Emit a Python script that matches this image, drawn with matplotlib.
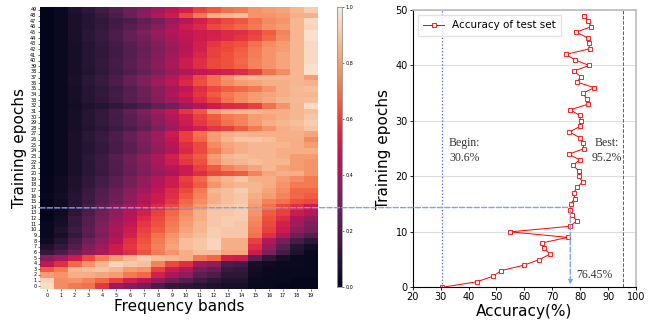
import matplotlib
matplotlib.use("Agg")
import matplotlib.pyplot as plt
from matplotlib.patches import ConnectionPatch
import numpy as np
import pandas as pd
import seaborn as sns

# ─── Data ─────────────────────────────────────────────────────────────────────
bands = list(range(20))
epochs = list(range(50))

# normalised band weight per epoch (row 0 = epoch 0)
band_weights = [
    [0.96, 0.76, 0.72, 0.70, 0.58, 0.40, 0.34, 0.30, 0.20, 0.14, 0.12, 0.10, 0.08, 0.06, 0.06, 0.02, 0.02, 0.01, 0.01, 0.01],
    [0.94, 0.76, 0.78, 0.74, 0.68, 0.60, 0.52, 0.46, 0.36, 0.28, 0.22, 0.16, 0.12, 0.08, 0.08, 0.03, 0.02, 0.02, 0.01, 0.01],
    [0.80, 0.78, 0.84, 0.84, 0.82, 0.80, 0.72, 0.68, 0.52, 0.42, 0.36, 0.24, 0.20, 0.12, 0.12, 0.04, 0.03, 0.02, 0.02, 0.02],
    [0.66, 0.72, 0.86, 0.88, 0.90, 0.86, 0.80, 0.78, 0.60, 0.50, 0.44, 0.30, 0.26, 0.15, 0.14, 0.05, 0.03, 0.02, 0.02, 0.02],
    [0.48, 0.56, 0.68, 0.78, 0.86, 0.94, 0.90, 0.88, 0.74, 0.62, 0.56, 0.40, 0.36, 0.20, 0.18, 0.06, 0.04, 0.03, 0.03, 0.02],
    [0.34, 0.40, 0.50, 0.62, 0.72, 0.80, 0.86, 0.92, 0.88, 0.86, 0.84, 0.72, 0.68, 0.52, 0.50, 0.24, 0.12, 0.06, 0.03, 0.02],
    [0.14, 0.20, 0.28, 0.36, 0.42, 0.50, 0.56, 0.64, 0.72, 0.78, 0.84, 0.88, 0.88, 0.82, 0.82, 0.50, 0.32, 0.18, 0.08, 0.03],
    [0.08, 0.14, 0.22, 0.32, 0.40, 0.50, 0.58, 0.66, 0.74, 0.82, 0.88, 0.90, 0.94, 0.84, 0.84, 0.56, 0.38, 0.24, 0.10, 0.05],
    [0.04, 0.10, 0.18, 0.28, 0.36, 0.46, 0.56, 0.64, 0.72, 0.80, 0.88, 0.90, 0.94, 0.84, 0.84, 0.60, 0.44, 0.30, 0.18, 0.12],
    [0.02, 0.06, 0.14, 0.22, 0.32, 0.42, 0.52, 0.62, 0.70, 0.78, 0.84, 0.88, 0.92, 0.90, 0.90, 0.70, 0.56, 0.44, 0.28, 0.22],
    [0.02, 0.08, 0.16, 0.24, 0.34, 0.42, 0.50, 0.60, 0.66, 0.74, 0.82, 0.86, 0.92, 0.90, 0.90, 0.72, 0.60, 0.50, 0.36, 0.30],
    [0.02, 0.06, 0.14, 0.22, 0.32, 0.40, 0.48, 0.58, 0.64, 0.72, 0.80, 0.86, 0.90, 0.92, 0.90, 0.74, 0.62, 0.52, 0.40, 0.32],
    [0.01, 0.05, 0.15, 0.22, 0.30, 0.38, 0.46, 0.55, 0.62, 0.70, 0.78, 0.84, 0.90, 0.92, 0.92, 0.76, 0.64, 0.56, 0.42, 0.36],
    [0.00, 0.04, 0.12, 0.20, 0.28, 0.36, 0.44, 0.52, 0.60, 0.68, 0.76, 0.84, 0.90, 0.90, 0.92, 0.78, 0.66, 0.60, 0.50, 0.45],
    [0.00, 0.04, 0.10, 0.18, 0.25, 0.33, 0.40, 0.48, 0.55, 0.62, 0.70, 0.80, 0.88, 0.90, 0.92, 0.80, 0.70, 0.62, 0.56, 0.50],
    [0.00, 0.04, 0.10, 0.16, 0.22, 0.28, 0.36, 0.44, 0.50, 0.58, 0.68, 0.76, 0.84, 0.88, 0.90, 0.82, 0.74, 0.70, 0.64, 0.62],
    [0.02, 0.05, 0.10, 0.16, 0.22, 0.28, 0.36, 0.44, 0.50, 0.56, 0.65, 0.74, 0.84, 0.88, 0.90, 0.84, 0.80, 0.74, 0.68, 0.66],
    [0.01, 0.04, 0.09, 0.15, 0.21, 0.27, 0.34, 0.41, 0.48, 0.55, 0.62, 0.72, 0.86, 0.88, 0.92, 0.86, 0.82, 0.76, 0.68, 0.68],
    [0.01, 0.04, 0.08, 0.13, 0.18, 0.24, 0.30, 0.37, 0.44, 0.50, 0.58, 0.66, 0.78, 0.84, 0.86, 0.86, 0.84, 0.78, 0.72, 0.72],
    [0.01, 0.04, 0.08, 0.13, 0.18, 0.24, 0.30, 0.37, 0.44, 0.50, 0.60, 0.68, 0.82, 0.86, 0.90, 0.84, 0.84, 0.80, 0.76, 0.72],
    [0.00, 0.03, 0.07, 0.11, 0.15, 0.20, 0.26, 0.32, 0.38, 0.42, 0.50, 0.56, 0.62, 0.64, 0.66, 0.74, 0.82, 0.84, 0.84, 0.78],
    [0.00, 0.03, 0.07, 0.11, 0.16, 0.21, 0.27, 0.34, 0.40, 0.46, 0.50, 0.60, 0.66, 0.74, 0.78, 0.82, 0.86, 0.82, 0.80, 0.78],
    [0.00, 0.03, 0.07, 0.11, 0.16, 0.21, 0.28, 0.35, 0.42, 0.50, 0.58, 0.64, 0.78, 0.84, 0.86, 0.88, 0.86, 0.86, 0.80, 0.78],
    [0.00, 0.03, 0.07, 0.11, 0.16, 0.22, 0.28, 0.36, 0.44, 0.52, 0.60, 0.66, 0.80, 0.86, 0.88, 0.86, 0.86, 0.84, 0.80, 0.80],
    [0.00, 0.03, 0.07, 0.10, 0.14, 0.19, 0.24, 0.30, 0.37, 0.44, 0.54, 0.62, 0.72, 0.80, 0.84, 0.86, 0.86, 0.84, 0.84, 0.84],
    [0.00, 0.03, 0.07, 0.10, 0.14, 0.19, 0.24, 0.31, 0.38, 0.46, 0.56, 0.62, 0.76, 0.82, 0.84, 0.86, 0.86, 0.86, 0.84, 0.80],
    [0.00, 0.03, 0.07, 0.11, 0.15, 0.20, 0.26, 0.33, 0.40, 0.48, 0.60, 0.68, 0.80, 0.86, 0.90, 0.90, 0.88, 0.84, 0.84, 0.76],
    [0.00, 0.03, 0.07, 0.11, 0.15, 0.20, 0.26, 0.33, 0.40, 0.50, 0.60, 0.70, 0.80, 0.84, 0.86, 0.85, 0.85, 0.85, 0.85, 0.82],
    [0.00, 0.03, 0.06, 0.09, 0.12, 0.16, 0.20, 0.25, 0.32, 0.40, 0.48, 0.52, 0.58, 0.60, 0.66, 0.72, 0.78, 0.84, 0.86, 0.90],
    [0.00, 0.03, 0.06, 0.10, 0.14, 0.18, 0.23, 0.28, 0.35, 0.42, 0.50, 0.58, 0.64, 0.70, 0.74, 0.80, 0.84, 0.86, 0.88, 0.92],
    [0.00, 0.03, 0.06, 0.10, 0.14, 0.18, 0.23, 0.30, 0.36, 0.45, 0.52, 0.60, 0.66, 0.72, 0.74, 0.80, 0.82, 0.84, 0.86, 0.90],
    [0.00, 0.03, 0.06, 0.10, 0.14, 0.19, 0.25, 0.32, 0.40, 0.48, 0.58, 0.65, 0.80, 0.85, 0.86, 0.86, 0.84, 0.84, 0.86, 0.88],
    [0.00, 0.03, 0.05, 0.08, 0.10, 0.13, 0.16, 0.20, 0.25, 0.30, 0.38, 0.44, 0.50, 0.55, 0.56, 0.60, 0.70, 0.78, 0.86, 0.96],
    [0.00, 0.03, 0.06, 0.10, 0.13, 0.17, 0.22, 0.27, 0.33, 0.40, 0.47, 0.55, 0.62, 0.70, 0.76, 0.80, 0.83, 0.86, 0.87, 0.88],
    [0.00, 0.03, 0.06, 0.10, 0.14, 0.18, 0.23, 0.28, 0.35, 0.43, 0.50, 0.58, 0.66, 0.72, 0.76, 0.80, 0.82, 0.84, 0.86, 0.86],
    [0.00, 0.03, 0.06, 0.10, 0.13, 0.17, 0.22, 0.28, 0.35, 0.42, 0.48, 0.56, 0.62, 0.66, 0.68, 0.72, 0.78, 0.84, 0.87, 0.88],
    [0.00, 0.03, 0.07, 0.11, 0.15, 0.20, 0.26, 0.32, 0.40, 0.47, 0.55, 0.63, 0.70, 0.76, 0.80, 0.82, 0.84, 0.84, 0.86, 0.85],
    [0.00, 0.03, 0.07, 0.11, 0.15, 0.20, 0.26, 0.32, 0.38, 0.45, 0.52, 0.62, 0.70, 0.78, 0.84, 0.86, 0.86, 0.86, 0.86, 0.80],
    [0.00, 0.03, 0.06, 0.09, 0.13, 0.17, 0.21, 0.26, 0.32, 0.38, 0.44, 0.48, 0.50, 0.52, 0.55, 0.60, 0.70, 0.76, 0.86, 0.97],
    [0.00, 0.03, 0.06, 0.10, 0.14, 0.18, 0.23, 0.28, 0.35, 0.42, 0.50, 0.56, 0.62, 0.64, 0.67, 0.74, 0.78, 0.82, 0.86, 0.97],
    [0.00, 0.03, 0.06, 0.10, 0.14, 0.18, 0.23, 0.28, 0.34, 0.42, 0.50, 0.56, 0.62, 0.64, 0.68, 0.74, 0.78, 0.82, 0.86, 0.95],
    [0.00, 0.03, 0.06, 0.10, 0.13, 0.17, 0.22, 0.27, 0.33, 0.40, 0.47, 0.54, 0.60, 0.64, 0.67, 0.73, 0.78, 0.82, 0.86, 0.95],
    [0.00, 0.03, 0.06, 0.10, 0.13, 0.17, 0.22, 0.26, 0.32, 0.38, 0.45, 0.52, 0.60, 0.62, 0.66, 0.72, 0.78, 0.80, 0.86, 0.95],
    [0.00, 0.03, 0.06, 0.10, 0.14, 0.18, 0.23, 0.28, 0.33, 0.40, 0.46, 0.52, 0.58, 0.62, 0.64, 0.70, 0.76, 0.80, 0.86, 0.95],
    [0.00, 0.03, 0.07, 0.11, 0.15, 0.20, 0.26, 0.30, 0.36, 0.42, 0.47, 0.50, 0.53, 0.55, 0.58, 0.62, 0.68, 0.76, 0.86, 0.97],
    [0.00, 0.03, 0.07, 0.11, 0.15, 0.20, 0.26, 0.32, 0.38, 0.44, 0.48, 0.50, 0.52, 0.55, 0.56, 0.60, 0.66, 0.74, 0.86, 0.97],
    [0.00, 0.03, 0.07, 0.10, 0.14, 0.18, 0.23, 0.28, 0.34, 0.42, 0.50, 0.55, 0.62, 0.65, 0.68, 0.72, 0.77, 0.80, 0.86, 0.94],
    [0.00, 0.03, 0.07, 0.10, 0.13, 0.17, 0.20, 0.25, 0.30, 0.38, 0.45, 0.52, 0.58, 0.62, 0.65, 0.70, 0.75, 0.78, 0.86, 0.95],
    [0.00, 0.03, 0.07, 0.10, 0.15, 0.20, 0.27, 0.35, 0.44, 0.50, 0.62, 0.72, 0.84, 0.86, 0.88, 0.78, 0.78, 0.80, 0.84, 0.85],
    [0.00, 0.03, 0.08, 0.12, 0.17, 0.22, 0.28, 0.33, 0.40, 0.47, 0.52, 0.60, 0.65, 0.70, 0.72, 0.78, 0.80, 0.82, 0.86, 0.92],
]

test_acc = [30.6, 43.0, 48.8, 51.6, 59.9, 65.4, 69.2, 67.0, 66.3, 75.6,
            54.9, 76.3, 78.9, 76.9, 76.45, 76.6, 78.0, 77.7, 78.8, 80.9,
            79.4, 79.4, 77.5, 79.8, 75.9, 81.3, 81.0, 79.8, 76.1, 79.9,
            80.2, 79.8, 76.4, 82.7, 82.4, 80.9, 85.1, 78.9, 80.2, 77.7,
            83.2, 78.2, 74.8, 83.4, 83.0, 82.7, 78.5, 84.0, 82.7, 81.5]

begin_acc = 30.6
best_acc = 95.2
chosen_acc = 76.45
chosen_epoch = 14.4

# ─── Figure ───────────────────────────────────────────────────────────────────
fig = plt.figure(figsize=(6.54, 3.23), dpi=100)
ax_hm = fig.add_axes([0.061, 0.105, 0.425, 0.873])
ax_cb = fig.add_axes([0.515, 0.110, 0.0077, 0.869])
ax_acc = fig.add_axes([0.631, 0.1105, 0.3415, 0.8585])

df = pd.DataFrame(band_weights, index=epochs, columns=bands)
sns.heatmap(df, cmap="rocket", vmin=0, vmax=1, ax=ax_hm, cbar_ax=ax_cb,
            xticklabels=bands, yticklabels=epochs)
ax_hm.invert_yaxis()
ax_hm.tick_params(axis="both", labelsize=3.5, length=1.5, width=0.4, pad=1)
ax_hm.set_yticklabels(epochs, rotation=0)
ax_hm.set_xticklabels(bands, rotation=0)
ax_hm.set_xlabel("Frequency bands", fontsize=11, labelpad=1)
ax_hm.set_ylabel("Training epochs", fontsize=11, labelpad=2)

ax_cb.tick_params(labelsize=3.5, length=1.5, width=0.4, pad=1)
ax_cb.set_yticks([0.0, 0.2, 0.4, 0.6, 0.8, 1.0])
for sp in ax_cb.spines.values():
    sp.set_visible(True)
    sp.set_color("#999999")
    sp.set_linewidth(0.5)

# ─── Accuracy curve ───────────────────────────────────────────────────────────
ax_acc.plot(test_acc, epochs, color="red", lw=0.7, marker="s", ms=2.6,
            mfc="white", mec="red", mew=0.6, label="Accuracy of test set")
ax_acc.axvline(begin_acc, color="#5555ff", ls=":", lw=0.9)
ax_acc.axvline(best_acc, color="#228b22", ls="--", lw=0.7)
ax_acc.set_xlim(20, 100)
ax_acc.set_ylim(0, 50)
ax_acc.set_xticks(range(20, 101, 10))
ax_acc.set_yticks(range(0, 51, 10))
ax_acc.yaxis.grid(True, color="#dddddd", lw=0.8)
ax_acc.set_axisbelow(True)
ax_acc.tick_params(labelsize=7, length=2.5, width=0.6, pad=1)
ax_acc.set_xlabel("Accuracy(%)", fontsize=11, labelpad=1)
ax_acc.set_ylabel("Training epochs", fontsize=11, labelpad=3)
for side in ("top", "right"):
    ax_acc.spines[side].set_color("#bbbbbb")
    ax_acc.spines[side].set_linewidth(1.2)

ax_acc.legend(loc="upper left", fontsize=7.5, frameon=True, fancybox=False,
              edgecolor="#dddddd", handlelength=2.0, borderpad=0.5)

serif = dict(family="Liberation Serif", fontsize=8.5, color="#333333")
ax_acc.text(begin_acc + 2.4, 25.5, "Begin:", **serif)
ax_acc.text(begin_acc + 2.4, 22.8, "30.6%", **serif)
ax_acc.text(best_acc - 10.2, 25.5, "Best:", **serif)
ax_acc.text(best_acc - 11.0, 22.8, "95.2%", **serif)
ax_acc.text(chosen_acc + 2.3, 1.6, "76.45%", **serif)

# chosen epoch guide lines
ax_acc.annotate("", xy=(chosen_acc, 0), xytext=(chosen_acc, chosen_epoch),
                arrowprops=dict(arrowstyle="-|>", color="#7fa3e6", lw=1.0,
                                ls="--", mutation_scale=6))
con = ConnectionPatch(xyA=(0, chosen_epoch), coordsA=ax_hm.transData,
                      xyB=(chosen_acc, chosen_epoch), coordsB=ax_acc.transData,
                      color="#7fa3e6", lw=1.0, ls="--")
fig.add_artist(con)

fig.savefig("out.png", dpi=100)
